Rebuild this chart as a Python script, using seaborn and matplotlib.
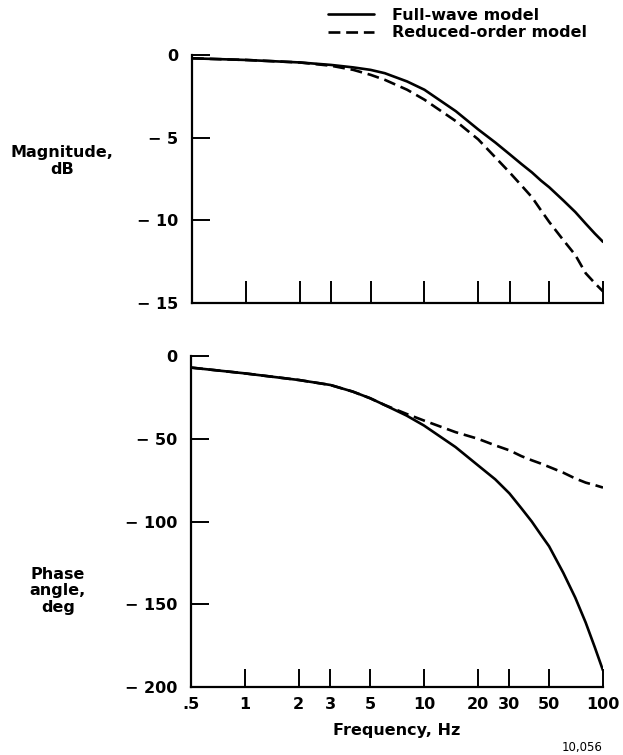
import numpy as np
import pandas as pd
import matplotlib
matplotlib.use("Agg")
import matplotlib.pyplot as plt
import seaborn as sns
from matplotlib.lines import Line2D

sns.set_theme(style="white")
plt.rcParams['font.family'] = ['DejaVu Sans']
plt.rcParams['font.weight'] = 'bold'
for k in ['text.color', 'axes.labelcolor', 'xtick.color', 'ytick.color', 'axes.edgecolor']:
    plt.rcParams[k] = 'black'

# ---- data ----
freq = [0.5, 1, 2, 3, 4, 5, 6, 8, 10, 15, 20, 25, 30, 35, 40, 45, 50, 60, 70, 80, 90, 100]
mag_full = [-0.2, -0.3, -0.45, -0.6, -0.75, -0.9, -1.1, -1.6, -2.1, -3.4, -4.5,
            -5.3, -6.0, -6.6, -7.1, -7.6, -8.0, -8.8, -9.5, -10.2, -10.8, -11.3]
mag_reduced = [-0.2, -0.3, -0.45, -0.65, -0.9, -1.2, -1.5, -2.1, -2.7, -4.0, -5.1,
               -6.2, -7.1, -7.9, -8.6, -9.4, -10.1, -11.2, -12.1, -13.2, -13.8, -14.3]
phase_full = [-7, -10.5, -14.5, -17.5, -21.5, -25.5, -29.5, -36, -42, -55, -66,
              -74.5, -83, -92, -100, -108, -115, -131, -146, -161, -176, -190]
phase_reduced = [-7, -10.5, -14.5, -17.5, -21.5, -25.5, -29.5, -35, -39, -46, -50,
                 -54, -57, -60.5, -63, -65, -67, -70.5, -74, -76.5, -78, -79.5]

xtick_vals = [0.5, 1, 2, 3, 5, 10, 20, 30, 50, 100]
xtick_labels = ['.5', '1', '2', '3', '5', '10', '20', '30', '50', '100']
mag_ticks = [0, -5, -10, -15]
mag_tick_labels = ['0', '\u2212 5', '\u2212 10', '\u2212 15']
phase_ticks = [0, -50, -100, -150, -200]
phase_tick_labels = ['0', '\u2212 50', '\u2212 100', '\u2212 150', '\u2212 200']
series_names = ['Full-wave model', 'Reduced-order model']

W, H = 623, 755
fig = plt.figure(figsize=(W / 100, H / 100), dpi=100)

def rect(x0, y0, x1, y1):
    return [x0 / W, 1 - y1 / H, (x1 - x0) / W, (y1 - y0) / H]

ax1 = fig.add_axes(rect(192, 55, 603, 303))
ax2 = fig.add_axes(rect(191, 356, 603, 687))

LW = 1.9
DASH = (4.5, 2.2)
fs = 11.5

def draw(ax, yfull, yred):
    sns.lineplot(x=freq, y=yfull, ax=ax, color='black', lw=LW, sort=False)
    sns.lineplot(x=freq, y=yred, ax=ax, color='black', lw=LW, sort=False)
    ax.lines[-1].set_dashes(DASH)
    ax.set_xscale('log')
    ax.set_xlim(0.5, 100)
    ax.set_xticks(xtick_vals)
    ax.minorticks_off()
    for s in ['top', 'right']:
        ax.spines[s].set_visible(False)
    for s in ['left', 'bottom']:
        ax.spines[s].set_color('black')
        ax.spines[s].set_linewidth(1.6)
    ax.set_facecolor('white')
    ax.grid(False)

draw(ax1, mag_full, mag_reduced)
ax1.set_ylim(-15, 0)
ax1.set_yticks(mag_ticks)
ax1.set_yticklabels(mag_tick_labels, fontsize=fs, fontweight='bold')
ax1.set_xticklabels([])
ax1.tick_params(axis='y', direction='in', length=13, width=1.4, pad=10, colors='black', left=True)
ax1.tick_params(axis='x', direction='in', length=16, width=1.4, bottom=True)
ax1.set_xlabel('')
ax1.set_ylabel('')

draw(ax2, phase_full, phase_reduced)
ax2.set_ylim(-200, 0)
ax2.set_yticks(phase_ticks)
ax2.set_yticklabels(phase_tick_labels, fontsize=fs, fontweight='bold')
ax2.set_xticklabels(xtick_labels, fontsize=fs, fontweight='bold')
ax2.tick_params(axis='y', direction='in', length=13, width=1.4, pad=10, left=True)
ax2.tick_params(axis='x', direction='in', length=13, width=1.4, pad=7, bottom=True)
ax2.set_ylabel('')
ax2.set_xlabel('Frequency, Hz', fontsize=fs, fontweight='bold', labelpad=8)

fig.text(62 / W, 1 - 161 / H, 'Magnitude,\ndB', ha='center', va='center',
         fontsize=fs, fontweight='bold', linespacing=1.1)
fig.text(58 / W, 1 - 591 / H, 'Phase\nangle,\ndeg', ha='center', va='center',
         fontsize=fs, fontweight='bold', linespacing=1.1)
fig.text(582 / W, 1 - 748 / H, '10,056', ha='center', va='center',
         fontsize=8.5, fontweight='normal')

handles = [Line2D([], [], color='black', lw=LW),
           Line2D([], [], color='black', lw=LW, dashes=DASH)]
fig.legend(handles, series_names, loc='upper left',
           bbox_to_anchor=(328 / W, 1 - 8 / H), frameon=False,
           prop={'size': fs, 'weight': 'bold'}, handlelength=2.9,
           handletextpad=1.1, labelspacing=0.15, borderpad=0, borderaxespad=0)

fig.savefig('out.png', dpi=100, facecolor='white')
